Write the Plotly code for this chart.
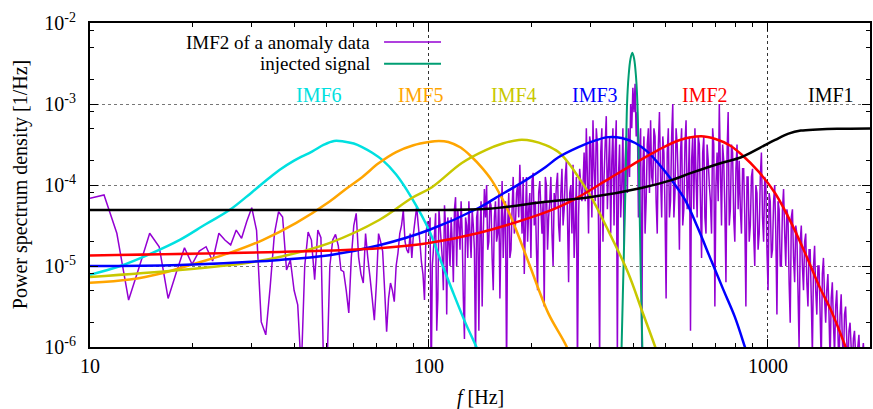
import numpy as np
import plotly.graph_objects as go

# ---------------- data ----------------
# IMF2 of anomaly data: low-frequency part, 1 Hz bins (10..99 Hz), log10(PSD)
anom_low_f = list(range(10, 100))
anom_low_log = [
    -4.164, -4.123, -4.596, -5.42, -5.0, -4.596, -4.762, -5.4, -5.07, -4.774,
    -4.979, -4.815, -4.762, -4.938, -4.596, -4.68, -4.74, -4.556, -4.658, -4.45,
    -4.28, -4.56, -5.69, -5.85, -5.26, -4.6, -4.33, -4.395, -5.05, -4.926,
    -5.3, -5.48, -6.3, -5.0, -4.58, -4.68, -5.17, -4.556, -4.65, -6.5,
    -6.3, -5.0, -4.68, -4.61, -4.75, -5.05, -5.07, -5.3, -5.58, -4.9,
    -4.5, -4.35, -4.89, -5.1, -5.21, -4.6, -4.9, -5.14, -5.4, -5.67,
    -5.2, -4.6, -4.7, -4.82, -5.3, -5.81, -5.4, -5.21, -5.3, -5.44,
    -5.0, -4.84, -4.6, -4.5, -4.31, -4.7, -4.8, -4.84, -4.6, -4.9,
    -4.6, -4.43, -4.27, -4.5, -4.7, -4.95, -5.1, -5.42, -4.6, -4.45,
]
# high-frequency part: log-spaced bins from 100 Hz to 2000 Hz, log10(PSD)
anom_high_log = [
    -4.6, -6.5, -4.8, -4.35, -5.4, -4.5, -4.9, -4.25, -5.6, -4.7,
    -4.4, -5.2, -4.15, -4.3, -4.8, -4.6, -5.9, -4.5, -4.2, -4.9,
    -4.5, -6.2, -4.3, -4.6, -5.5, -4.05, -4.0, -4.7, -4.25, -5.3,
    -4.2, -4.6, -5.4, -3.95, -4.4, -6.3, -4.1, -4.8, -3.9, -4.5,
    -4.0, -3.75, -4.6, -5.1, -3.9, -4.3, -4.9, -3.85, -4.2, -5.3,
    -3.95, -4.6, -5.5, -4.0, -4.4, -3.9, -5.0, -4.3, -3.85, -4.7,
    -3.8, -4.3, -3.7, -5.2, -4.0, -3.75, -4.5, -6.3, -3.8, -4.2,
    -3.6, -3.3, -4.6, -3.5, -3.2, -4.2, -3.5, -6.2, -3.3, -3.9,
    -3.15, -3.8, -4.6, -3.3, -3.6, -6.1, -3.5, -4.0, -4.8, -3.4,
    -3.3, -3.0, -2.8, -2.75, -3.1, -3.6, -6.0, -3.4, -4.2, -3.3,
    -3.2, -4.0, -3.4, -4.6, -3.1, -4.4, -3.6, -5.4, -3.3, -4.2,
    -3.0, -4.1, -3.5, -4.8, -3.3, -4.3, -3.2, -4.0, -5.8, -3.4,
    -3.3, -4.4, -3.5, -4.9, -3.4, -4.6, -3.7, -4.2, -3.3, -5.5,
    -3.6, -3.0, -4.5, -3.7, -5.2, -3.1, -4.3, -3.6, -4.7, -3.5,
    -3.7, -4.6, -3.8, -5.5, -3.9, -4.5, -3.8, -5.0, -4.1, -4.6,
    -3.6, -4.7, -4.0, -5.3, -4.2, -4.8, -4.0, -5.6, -4.3, -5.0,
    -4.05, -5.0, -4.4, -5.7, -4.3, -5.2, -4.6, -6.0, -4.5, -5.3,
    -4.6, -5.5, -4.8, -6.1, -4.75, -5.6, -5.0, -6.2, -4.9, -5.7,
    -5.1, -6.2, -5.2, -6.1, -5.3, -6.3, -5.35, -6.2, -5.5, -6.3,
    -5.7, -6.3, -5.8, -6.2, -5.85, -6.4, -5.95, -6.3, -6.1, -6.4,
]
# values of the bins lying between consecutive high-frequency bins above
anom_mid_log = [
    -4.4, -5.0, -4.6, -5.8, -4.3, -4.7, -5.3, -4.5, -4.4, -5.0,
    -4.7, -4.3, -5.0, -4.5, -4.2, -5.4, -4.4, -4.9, -4.6, -4.3,
    -4.8, -4.4, -5.8, -4.2, -4.6, -4.4, -4.8, -4.2, -4.9, -4.4,
    -4.7, -4.1, -4.6, -4.9, -4.2, -4.5, -4.9, -4.3, -4.6, -4.1,
    -4.4, -4.2, -3.9, -4.5, -4.7, -4.1, -3.95, -4.5, -4.8, -4.1,
    -4.3, -4.2, -3.9, -4.8, -4.2, -4.6, -4.1, -4.0, -4.5, -4.1,
    -4.5, -3.9, -4.4, -4.1, -4.6, -4.9, -3.9, -4.4, -4.0, -4.0,
    -4.2, -3.9, -3.4, -4.4, -3.8, -3.3, -4.5, -3.6, -4.7, -3.5,
    -4.3, -3.4, -3.7, -4.5, -3.2, -3.9, -4.4, -3.3, -3.7, -4.1,
    -3.9, -3.3, -3.1, -3.4, -4.4, -3.3, -3.8, -4.6, -3.5, -4.1,
    -3.9, -3.3, -4.2, -3.5, -3.9, -3.4, -4.3, -3.6, -4.4, -3.4,
    -4.4, -3.3, -4.0, -3.6, -4.5, -3.5, -4.3, -3.4, -3.7, -4.3,
    -3.9, -3.4, -4.2, -3.6, -4.4, -3.5, -4.0, -4.6, -3.5, -4.0,
    -4.2, -3.8, -3.5, -4.3, -3.6, -4.5, -3.5, -4.4, -3.8, -4.3,
    -4.3, -3.8, -4.4, -3.9, -4.7, -3.9, -4.6, -4.0, -4.8, -3.9,
    -4.4, -3.9, -4.8, -4.1, -4.9, -4.2, -4.6, -4.2, -5.0, -4.3,
    -4.6, -4.3, -5.2, -4.4, -4.9, -4.5, -5.3, -4.7, -5.0, -4.7,
    -5.2, -4.8, -5.4, -5.0, -5.3, -5.0, -5.6, -5.1, -5.4, -5.3,
    -5.6, -5.4, -5.7, -5.5, -5.8, -5.6, -5.9, -5.6, -5.9, -5.8,
    -6.0, -5.9, -6.1, -6.0, -6.2, -6.1, -6.2, -6.2, -6.3,
]
anom_high_f = np.geomspace(100, 2000, len(anom_high_log))
anom_mid_f = np.sqrt(anom_high_f[:-1] * anom_high_f[1:])

inj_f = [366, 370, 375, 380, 384, 388, 393, 398, 403, 408, 412, 417, 421, 426, 431]
inj_p = [1e-7, 1e-6, 1e-5, 1e-4, 1e-3, 2.2e-3, 3.6e-3, 4.3e-3, 3.6e-3, 2.2e-3,
         1e-3, 1e-4, 1e-5, 1e-6, 1e-7]

imf6_f = [10, 12.3, 15, 18.4, 22, 25.8, 30, 33.2, 36.2, 40, 45.3, 49, 52.5, 56, 60,
          63.5, 68, 72.8, 80, 89, 100, 108, 117, 128, 138, 145]
imf6_p = [7.8e-6, 1.0e-5, 1.4e-5, 2.1e-5, 3.3e-5, 4.9e-5, 8.1e-5, 1.15e-4, 1.53e-4,
          2.0e-4, 2.6e-4, 3.15e-4, 3.5e-4, 3.45e-4, 3.25e-4, 2.94e-4, 2.5e-4, 2.04e-4,
          1.35e-4, 6.9e-5, 2.78e-5, 1.2e-5, 5.06e-6, 2.0e-6, 1.0e-6, 6e-7]

imf5_f = [10, 13.1, 16.4, 20.7, 25.8, 32.3, 40.6, 50.8, 57, 63.5, 71, 80, 90, 100,
          107, 114, 124, 134, 143, 153, 165, 176, 197, 225, 255, 270]
imf5_p = [6.2e-6, 6.8e-6, 8.2e-6, 1.09e-5, 1.45e-5, 2.09e-5, 3.4e-5, 6.2e-5, 9.0e-5,
          1.25e-4, 1.85e-4, 2.55e-4, 3.1e-4, 3.4e-4, 3.5e-4, 3.4e-4, 2.9e-4, 2.2e-4,
          1.65e-4, 1.15e-4, 6.6e-5, 3.7e-5, 1.09e-5, 2.6e-6, 1e-6, 5e-7]

imf4_f = [10, 18.4, 29, 36.2, 50.8, 71.3, 89, 102, 125, 147, 165, 184, 202, 221, 241,
          258, 276, 301, 340, 387, 425, 465, 500]
imf4_p = [7.3e-6, 8.9e-6, 1.09e-5, 1.29e-5, 1.92e-5, 3.7e-5, 6.9e-5, 9.4e-5, 1.87e-4,
          2.7e-4, 3.25e-4, 3.6e-4, 3.5e-4, 3.1e-4, 2.55e-4, 1.87e-4, 1.25e-4, 7.1e-5,
          2.6e-5, 8.2e-6, 2.8e-6, 1e-6, 4e-7]

imf3_f = [10, 18.4, 36.2, 50.8, 71.3, 100, 140, 157, 193, 221, 241, 276, 310, 338,
          370, 406, 440, 474, 520, 570, 620, 679, 740, 799, 855, 900]
imf3_p = [1.0e-5, 1.03e-5, 1.19e-5, 1.36e-5, 1.8e-5, 2.78e-5, 5.2e-5, 6.9e-5, 1.15e-4,
          1.67e-4, 2.2e-4, 2.94e-4, 3.55e-4, 3.9e-4, 3.8e-4, 3.3e-4, 2.6e-4, 1.87e-4,
          1.15e-4, 6.5e-5, 3.0e-5, 1.19e-5, 5.0e-6, 2.34e-6, 1e-6, 5e-7]

imf2_f = [10, 36.2, 71.3, 100, 140, 197, 240, 276, 340, 400, 474, 550, 635, 700, 770,
          834, 940, 1050, 1180, 1313, 1420, 1531, 1695, 1800]
imf2_p = [1.35e-5, 1.49e-5, 1.66e-5, 1.92e-5, 2.55e-5, 3.9e-5, 5.3e-5, 7.1e-5, 1.2e-4,
          1.8e-4, 2.7e-4, 3.6e-4, 4.0e-4, 3.7e-4, 3.1e-4, 2.4e-4, 1.45e-4, 7.9e-5,
          3.2e-5, 1.19e-5, 5.5e-6, 2.9e-6, 1e-6, 5e-7]

imf1_f = [10, 50, 100, 150, 221, 301, 423, 519, 594, 728, 834, 950, 1050, 1150, 1250,
          1400, 1600, 2000]
imf1_p = [4.9e-5, 4.9e-5, 4.9e-5, 5.1e-5, 6.2e-5, 7.1e-5, 9.2e-5, 1.15e-4, 1.41e-4,
          1.87e-4, 2.2e-4, 2.9e-4, 3.6e-4, 4.3e-4, 4.7e-4, 4.85e-4, 4.95e-4, 5.0e-4]

imf_labels = ["IMF6", "IMF5", "IMF4", "IMF3", "IMF2", "IMF1"]
imf_label_f = [47.4, 94.5, 178, 308, 652, 1531]
imf_colors = ["#00e0e0", "#ffa500", "#c8c800", "#0000ff", "#ff0000", "#000000"]

x_ticks = [10, 100, 1000]
x_ticktext = ["10", "100", "1000"]
y_ticks = [1e-6, 1e-5, 1e-4, 1e-3, 1e-2]
y_ticktext = ["10<sup>-6</sup>", "10<sup>-5</sup>", "10<sup>-4</sup>",
              "10<sup>-3</sup>", "10<sup>-2</sup>"]

# ---------------- figure ----------------
FONT = "Liberation Serif"
PURPLE = "#9400d3"
GREEN = "#009e73"

# interleave the high-frequency bins with the in-between bins
high_f, high_log = [], []
for k in range(len(anom_high_log)):
    high_f.append(anom_high_f[k]); high_log.append(anom_high_log[k])
    if k < len(anom_mid_log):
        high_f.append(anom_mid_f[k]); high_log.append(anom_mid_log[k])

anom_f = list(anom_low_f) + high_f
anom_p = [10 ** v for v in anom_low_log + high_log]

fig = go.Figure()
fig.add_trace(go.Scatter(x=anom_f, y=anom_p, mode="lines",
                         line=dict(color=PURPLE, width=1.5, simplify=False),
                         showlegend=False))
fig.add_trace(go.Scatter(x=inj_f, y=inj_p, mode="lines",
                         line=dict(color=GREEN, width=2, shape="spline"), showlegend=False))

for f, p, c in [(imf6_f, imf6_p, imf_colors[0]), (imf5_f, imf5_p, imf_colors[1]),
                (imf4_f, imf4_p, imf_colors[2]), (imf3_f, imf3_p, imf_colors[3]),
                (imf2_f, imf2_p, imf_colors[4]), (imf1_f, imf1_p, imf_colors[5])]:
    fig.add_trace(go.Scatter(x=f, y=p, mode="lines",
                             line=dict(color=c, width=2.5, shape="spline", smoothing=1.0),
                             showlegend=False))

# IMF labels
for lab, f, c in zip(imf_labels, imf_label_f, imf_colors):
    fig.add_annotation(x=np.log10(f), y=np.log10(1.29e-3), xref="x", yref="y",
                       text=lab, showarrow=False, font=dict(family=FONT, size=20, color=c),
                       xanchor="center", yanchor="middle")

# legend (gnuplot-style: text right-aligned, sample on right)
legend_rows = [("IMF2 of a anomaly data", PURPLE, 1.5, 0.941),
               ("injected signal", GREEN, 2, 0.874)]
for txt, col, w, yy in legend_rows:
    fig.add_annotation(x=0.3606, y=yy, xref="paper", yref="paper", text=txt,
                       showarrow=False, xanchor="right", yanchor="middle", borderpad=0,
                       font=dict(family=FONT, size=19, color="black"))
    fig.add_shape(type="line", xref="paper", yref="paper", x0=0.377, x1=0.450,
                  y0=yy, y1=yy, line=dict(color=col, width=w))

# axis titles
fig.add_annotation(x=0.5, y=-0.157, xref="paper", yref="paper",
                   text="<i>f</i> [Hz]", showarrow=False,
                   xanchor="center", yanchor="middle",
                   font=dict(family=FONT, size=20, color="black"))
fig.add_annotation(x=-0.0895, y=0.5, xref="paper", yref="paper",
                   text="Power spectrum density [1/Hz]", showarrow=False, textangle=-90,
                   xanchor="center", yanchor="middle",
                   font=dict(family=FONT, size=20, color="black"))

x_minor = [m * d for d in (10, 100, 1000) for m in range(2, 10) if m * d <= 2000]
y_minor = [m * d for d in (1e-6, 1e-5, 1e-4, 1e-3) for m in (2, 5, 8)]

fig.update_xaxes(type="log", range=[1, np.log10(2000)],
                 tickvals=x_ticks, ticktext=x_ticktext,
                 ticks="inside", ticklen=8, tickwidth=1.2, tickcolor="black",
                 showline=True, linecolor="black", linewidth=2, mirror="ticks",
                 showgrid=True, gridcolor="#333333", griddash="dot", gridwidth=1,
                 zeroline=False, ticklabelstandoff=0,
                 tickfont=dict(family=FONT, size=20, color="black"),
                 minor=dict(tickvals=x_minor, ticks="inside", ticklen=4,
                            tickcolor="black", showgrid=False))
fig.update_yaxes(type="log", range=[-6, -2],
                 tickvals=y_ticks, ticktext=y_ticktext,
                 ticks="inside", ticklen=8, tickwidth=1.2, tickcolor="black",
                 showline=True, linecolor="black", linewidth=2, mirror="ticks",
                 showgrid=True, gridcolor="#777777", griddash="dot", gridwidth=1,
                 zeroline=False, ticklabelstandoff=8,
                 tickfont=dict(family=FONT, size=20, color="black"),
                 minor=dict(tickvals=y_minor, ticks="inside", ticklen=4,
                            tickcolor="black", showgrid=False))

fig.update_layout(width=873, height=409,
                  margin=dict(l=90, r=1, t=23, b=62),
                  plot_bgcolor="white", paper_bgcolor="white",
                  font=dict(family=FONT, size=20, color="black"),
                  showlegend=False)

fig.write_html("out.html")
